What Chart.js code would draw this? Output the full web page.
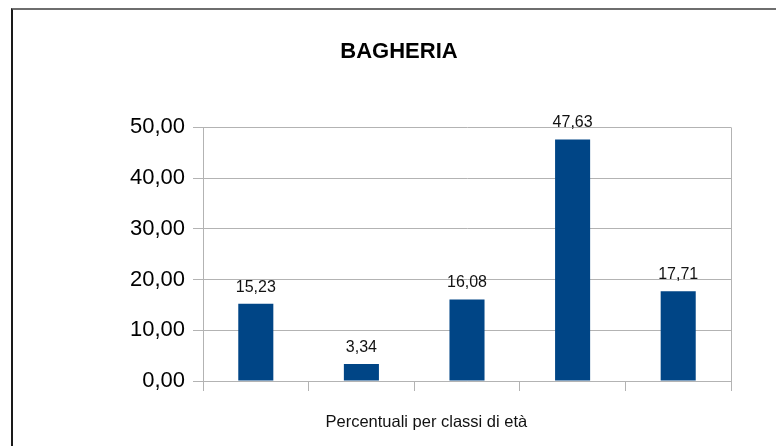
<!DOCTYPE html>
<html>
<head>
<meta charset="utf-8">
<script src="https://cdn.jsdelivr.net/npm/chart.js@4"></script>
<style>
  html, body { margin:0; padding:0; background:#fff; overflow:hidden; }
  #wrap { position:relative; width:776px; height:446px; }
  #frame { position:absolute; left:11px; top:8px; width:900px; height:600px;
           border-left:2px solid #1a1a1a; border-top:2px solid #6e6e6e; }
  #chart { position:absolute; left:0; top:0; }
</style>
</head>
<body>
<div id="wrap">
  <div id="frame"></div>
  <canvas id="chart" width="776" height="446"></canvas>
</div>
<script>
// Chart data
const TITLE = 'BAGHERIA';
const X_TITLE = 'Percentuali per classi di età';
const CATEGORIES = ['', '', '', '', ''];
const VALUES = [15.23, 3.34, 16.08, 47.63, 17.71];
const Y_MIN = 0, Y_MAX = 50, Y_STEP = 10;

const BAR_COLOR = '#004586';
const GRID_COLOR = '#b3b3b3';

Chart.defaults.font.family = "'Liberation Sans', Arial, sans-serif";
Chart.defaults.color = '#000';

function fmt(v) {
  return Number(v).toFixed(2).replace('.', ',');
}

// value labels above each bar
const barLabels = {
  id: 'barLabels',
  afterDatasetsDraw(chart) {
    const ctx = chart.ctx;
    const meta = chart.getDatasetMeta(0);
    ctx.save();
    ctx.font = "16px 'Liberation Sans', Arial, sans-serif";
    ctx.fillStyle = '#111';
    ctx.textAlign = 'center';
    ctx.textBaseline = 'alphabetic';
    meta.data.forEach(function(bar, i){
      ctx.fillText(fmt(VALUES[i]), bar.x, bar.y - 12);
    });
    ctx.restore();
  }
};

// x axis caption, placed left of the axis centre like the original
const xCaption = {
  id: 'xCaption',
  afterDraw(chart) {
    const ctx = chart.ctx;
    const a = chart.chartArea;
    ctx.save();
    ctx.font = "16.5px 'Liberation Sans', Arial, sans-serif";
    ctx.fillStyle = '#111';
    ctx.textAlign = 'center';
    ctx.textBaseline = 'alphabetic';
    ctx.fillText(X_TITLE, a.left + (a.right - a.left) * 0.423, a.bottom + 46);
    ctx.restore();
  }
};

new Chart(document.getElementById('chart'), {
  type: 'bar',
  data: {
    labels: CATEGORIES,
    datasets: [{
      data: VALUES,
      backgroundColor: BAR_COLOR,
      borderWidth: 0,
      barPercentage: 1,
      categoryPercentage: 0.332
    }]
  },
  options: {
    responsive: false,
    animation: false,
    layout: { padding: { left: 67, right: 45, top: 0, bottom: 0 } },
    plugins: {
      legend: { display: false },
      tooltip: { enabled: false },
      title: {
        display: true,
        text: TITLE,
        color: '#000',
        font: { size: 22, weight: 'bold' },
        padding: { top: 39, bottom: 62 }
      }
    },
    scales: {
      x: {
        ticks: { display: false },
        grid: {
          offset: true,
          tickLength: 10,
          tickColor: GRID_COLOR,
          // only the outer lines (left axis and right frame) show in the plot
          color: ctx => (ctx.type === 'scale' || ctx.index === 0) ? GRID_COLOR : 'rgba(0,0,0,0)'
        },
        border: { color: GRID_COLOR },
        afterFit: s => { s.height = 65; }
      },
      y: {
        min: Y_MIN,
        max: Y_MAX,
        ticks: {
          stepSize: Y_STEP,
          padding: 8,
          color: '#000',
          font: { size: 22 },
          callback: v => fmt(v)
        },
        grid: { color: GRID_COLOR, tickLength: 10 },
        border: { color: GRID_COLOR },
        afterFit: s => { s.width = 136; }
      }
    }
  },
  plugins: [barLabels, xCaption]
});
</script>
</body>
</html>
